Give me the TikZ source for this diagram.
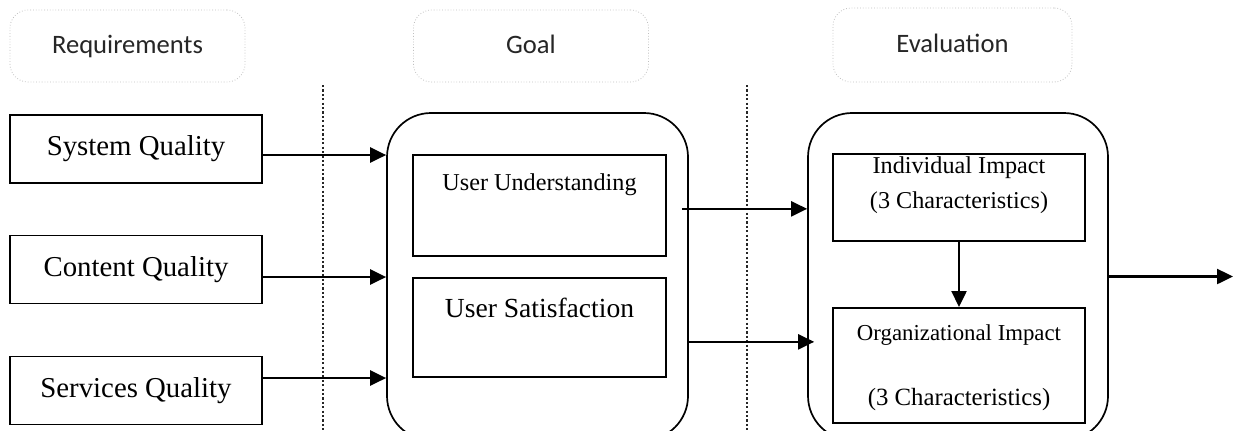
\documentclass[tikz,border=0pt]{standalone}
\usepackage{fontspec}
\setmainfont{Liberation Serif}
\newfontfamily\hdrfont{Carlito}
\usetikzlibrary{arrows.meta}

\begin{document}
\begin{tikzpicture}[x=0.5pt,y=-0.5pt,
  hdr/.style={draw=black!25, densely dotted, rounded corners=9pt, minimum width=117.5pt,
    minimum height=36pt, inner sep=0pt, text height=9pt, text depth=2pt, text=black!85,
    font=\hdrfont\fontsize{13.3pt}{16pt}\selectfont},
  qbox/.style={draw, line width=0.85pt, minimum width=126pt, minimum height=34pt, inner sep=0pt,
    font=\fontsize{14.4pt}{17pt}\selectfont},
  panel/.style={draw, line width=0.85pt, rounded corners=22pt, minimum width=150.5pt,
    minimum height=163.5pt, inner sep=0pt},
  inbox/.style={draw, line width=0.85pt, minimum width=126.5pt, inner sep=0pt, anchor=north, align=center},
  arr/.style={line width=1.2pt, -{Triangle[length=8pt,width=7.5pt]}},
  divider/.style={line width=1.4pt, black!85, dash pattern=on 1.1pt off 1.1pt}]
\useasboundingbox (0,0) rectangle (1234,430);
\clip (0,0) rectangle (1234,430);

% column headings
\node[hdr] (reqh) at (127.5,46) {Requirements};
\node[hdr] (goalh) at (531,46) {Goal};
\node[hdr, minimum width=119.5pt, minimum height=37pt] (evalh) at (952.5,45) {Evaluation};

% dotted separators
\draw[divider] (323,85) -- (323,430);
\draw[divider] (747,85) -- (747,430);

% requirements
\node[qbox] (sq) at (136,149) {System Quality};
\node[qbox] (cq) at (136,269.5) {Content Quality};
\node[qbox] (svq) at (136,390.5) {Services Quality};

% goal
\node[panel] (goal) at (537.5,276.5) {};
\node[inbox, text height=18pt, text depth=32.5pt, font=\fontsize{12.1pt}{14pt}\selectfont]
  (uu) at (539.5,154) {User Understanding};
\node[inbox, text height=20pt, text depth=29.5pt, font=\fontsize{13.8pt}{16pt}\selectfont]
  (us) at (539.5,277) {User Satisfaction};

% evaluation
\node[panel, minimum width=150pt] (eval) at (958,276.5) {};
\node[inbox, minimum width=126pt, text height=27.5pt, text depth=16pt,
  font=\fontsize{12.1pt}{17.5pt}\selectfont]
  (ii) at (959,153) {Individual Impact\\(3 Characteristics)};
\node[inbox, minimum width=126pt, text height=49pt, text depth=8.5pt,
  font=\fontsize{12.4pt}{32.5pt}\selectfont]
  (org) at (959,307) {{\fontsize{11.4pt}{32.5pt}\selectfont Organizational Impact}\\(3 Characteristics)};

% arrows
\coordinate (a1) at ([yshift=-3pt]sq.east);
\coordinate (a2) at ([yshift=-3.75pt]cq.east);
\coordinate (a3) at ([yshift=6.25pt]svq.east);
\draw[arr] (a1) -- (a1 -| goal.west);
\draw[arr] (a2) -- (a2 -| goal.west);
\draw[arr] (a3) -- (a3 -| goal.west);
\coordinate (b1) at ([xshift=7.5pt,yshift=-1.75pt]uu.east);
\coordinate (b2) at ([yshift=-7.25pt]us.east);
\draw[arr] (b1) -- (b1 -| eval.west);
\draw[arr] (b2 -| goal.east) -- ([xshift=3.5pt]b2 -| eval.west);
\draw[arr] (ii.south) -- (org.north);
\coordinate (out) at (1233,276.5);
\draw[arr] (eval.east) -- (out);
\end{tikzpicture}
\end{document}
